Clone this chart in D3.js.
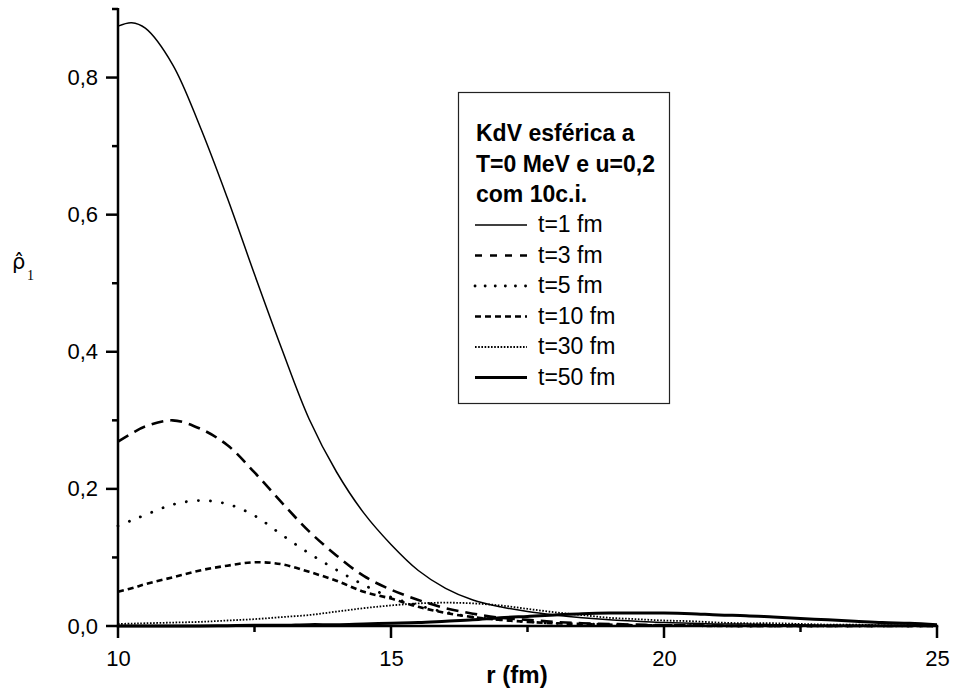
<!DOCTYPE html>
<html>
<head>
<meta charset="utf-8">
<script src="https://cdn.jsdelivr.net/npm/d3@7"></script>
<style>
  body { margin: 0; background: #fff; }
  text { font-family: Arial, "Liberation Sans", sans-serif; }
</style>
</head>
<body>
<div id="chart"></div>
<script>
let rValues = [10, 10.25, 10.5, 11, 11.5, 12, 12.5, 13, 13.5, 14, 14.5, 15, 15.5, 16, 16.5, 17, 17.5,
    18, 18.5, 19, 19.5, 20, 20.5, 21, 21.5, 22, 22.5, 23, 23.5, 24, 24.5, 25];

let t1 = [0.875, 0.880, 0.872, 0.819, 0.729, 0.625, 0.513, 0.404, 0.302, 0.225, 0.165, 0.119, 0.081, 0.055, 0.038,
    0.028, 0.021, 0.016, 0.012, 0.009, 0.007, 0.005, 0.004, 0.003, 0.003, 0.002, 0.002, 0.001, 0.001, 0.001, 0.001, 0.000];
let t3 = [0.269, 0.281, 0.291, 0.300, 0.288, 0.264, 0.224, 0.180, 0.138, 0.103, 0.073, 0.053, 0.038, 0.026, 0.018,
    0.012, 0.009, 0.006, 0.004, 0.003, 0.002, 0.001, 0.001, 0.0005, 0, 0, 0, 0, 0, 0, 0, 0];
let t5 = [0.146, 0.154, 0.162, 0.177, 0.183, 0.178, 0.161, 0.133, 0.106, 0.082, 0.060, 0.042, 0.030, 0.020, 0.013,
    0.009, 0.006, 0.004, 0.003, 0.002, 0.001, 0.001, 0.0005, 0, 0, 0, 0, 0, 0, 0, 0, 0];
let t10 = [0.050, 0.055, 0.061, 0.071, 0.081, 0.088, 0.093, 0.090, 0.079, 0.066, 0.050, 0.040, 0.028, 0.019, 0.013,
    0.009, 0.006, 0.004, 0.003, 0.002, 0.001, 0.001, 0.0005, 0, 0, 0, 0, 0, 0, 0, 0, 0];
let t30 = [0.003, 0.0035, 0.004, 0.005, 0.006, 0.008, 0.010, 0.013, 0.016, 0.021, 0.026, 0.030, 0.033, 0.034, 0.033,
    0.030, 0.025, 0.020, 0.016, 0.012, 0.010, 0.008, 0.007, 0.005, 0.004, 0.004, 0.003, 0.002, 0.002, 0.001, 0.001, 0.001];
let t50 = [0, 0, 0, 0, 0, 0.0005, 0.001, 0.001, 0.002, 0.002, 0.003, 0.004, 0.005, 0.007, 0.009, 0.012, 0.014,
    0.016, 0.018, 0.019, 0.019, 0.019, 0.018, 0.016, 0.015, 0.013, 0.011, 0.009, 0.007, 0.005, 0.004, 0.002];

let seriesLabels = ['t=1 fm', 't=3 fm', 't=5 fm', 't=10 fm', 't=30 fm', 't=50 fm'];
let legendTitle = ['KdV esférica a', 'T=0 MeV e u=0,2', 'com 10c.i.'];
let yMajorTicks = [0, 0.2, 0.4, 0.6, 0.8],
    yMinorTicks = [0.1, 0.3, 0.5, 0.7, 0.9],
    xMajorTicks = [10, 15, 20, 25],
    xMinorTicks = [12.5, 17.5, 22.5];

let width = 956, height = 689,
    margin = {top: 9, left: 118, bottom: 63, right: 19},
    clipWidth = width - margin.left - margin.right,
    clipHeight = height - margin.top - margin.bottom;

let styles = [
    {width: 1.5, dash: null, cap: 'butt'},
    {width: 2.6, dash: '12,7', cap: 'butt'},
    {width: 2.8, dash: '0.1,12', cap: 'round'},
    {width: 2.6, dash: '6,4', cap: 'butt'},
    {width: 1.8, dash: '1.6,1.6', cap: 'butt'},
    {width: 3, dash: null, cap: 'butt'}
];

let svg = d3.select('#chart').append('svg')
    .attr('width', width)
    .attr('height', height);

let g = svg.append('g')
    .attr('transform', `translate(${margin.left}, ${margin.top})`);

let xScale = d3.scaleLinear().domain([10, 25]).range([0, clipWidth]);
let yScale = d3.scaleLinear().domain([0, 0.9]).range([clipHeight, 0]);

let fmt = d => d3.format('.1f')(d).replace('.', ',');

let line = d3.line()
    .x(d => xScale(d[0]))
    .y(d => yScale(d[1]))
    .curve(d3.curveCatmullRom.alpha(0.5));

let allSeries = [t1, t3, t5, t10, t30, t50];

g.append('g').attr('class', 'curves')
    .selectAll('path')
    .data(allSeries)
    .join('path')
    .attr('d', s => line(rValues.map((r, i) => [r, s[i]])))
    .attr('fill', 'none')
    .attr('stroke', '#000')
    .attr('stroke-width', (d, i) => styles[i].width)
    .attr('stroke-dasharray', (d, i) => styles[i].dash)
    .attr('stroke-linecap', (d, i) => styles[i].cap);

// axes: labels from d3.axis, ticks drawn by hand
let xAxis = g.append('g')
    .attr('transform', `translate(0, ${clipHeight})`)
    .call(d3.axisBottom(xScale).tickValues(xMajorTicks).tickSize(0).tickPadding(24).tickSizeOuter(0));

let yAxis = g.append('g')
    .call(d3.axisLeft(yScale).tickValues(yMajorTicks).tickSize(0).tickPadding(20).tickFormat(fmt).tickSizeOuter(0));

g.selectAll('.domain').remove();
g.selectAll('.tick text')
    .attr('fill', '#000')
    .style('font-size', '22px')
    .style('font-family', 'Arial, "Liberation Sans", sans-serif');

let ticks = g.append('g').attr('class', 'ticks')
    .attr('stroke', '#000')
    .attr('stroke-width', 2.5);

ticks.selectAll('line.xt')
    .data(xMajorTicks.map(v => [v, 12]).concat(xMinorTicks.map(v => [v, 6])))
    .join('line')
    .attr('class', 'xt')
    .attr('x1', d => xScale(d[0]))
    .attr('x2', d => xScale(d[0]))
    .attr('y1', clipHeight)
    .attr('y2', d => clipHeight + d[1]);

ticks.selectAll('line.yt')
    .data(yMajorTicks.map(v => [v, 12]).concat(yMinorTicks.map(v => [v, 6])))
    .join('line')
    .attr('class', 'yt')
    .attr('x1', 0)
    .attr('x2', d => -d[1])
    .attr('y1', d => yScale(d[0]))
    .attr('y2', d => yScale(d[0]));

ticks.append('line')
    .attr('x1', 0).attr('x2', 0)
    .attr('y1', yScale(0.9) - 1).attr('y2', yScale(0) + 1.25);
ticks.append('line')
    .attr('x1', -1.25).attr('x2', xScale(25) + 1.25)
    .attr('y1', yScale(0)).attr('y2', yScale(0));

// axis titles
svg.append('text')
    .attr('x', 517)
    .attr('y', 683)
    .attr('text-anchor', 'middle')
    .style('font-size', '24px')
    .style('font-weight', 'bold')
    .text('r (fm)');

let yLab = svg.append('text')
    .attr('x', 12)
    .attr('y', 269)
    .style('font-family', '"DejaVu Sans", sans-serif')
    .style('font-size', '21px');
yLab.append('tspan').text('ρ\u0302');
yLab.append('tspan')
    .attr('x', 27)
    .attr('y', 280)
    .style('font-family', '"Liberation Serif", "Times New Roman", serif')
    .style('font-size', '14px')
    .text('1');

// legend
let legend = svg.append('g');
legend.append('rect')
    .attr('x', 458.5)
    .attr('y', 92.5)
    .attr('width', 211)
    .attr('height', 311)
    .attr('fill', '#fff')
    .attr('stroke', '#222')
    .attr('stroke-width', 1.2);

legend.selectAll('text.title')
    .data(legendTitle)
    .join('text')
    .attr('class', 'title')
    .attr('x', 476)
    .attr('y', (d, i) => 141 + i * 30.5)
    .style('font-size', '23px')
    .style('font-weight', 'bold')
    .text(d => d);

let items = legend.selectAll('g.item')
    .data(seriesLabels)
    .join('g')
    .attr('class', 'item')
    .attr('transform', (d, i) => `translate(0, ${232 + i * 30.5})`);

items.append('line')
    .attr('x1', 475)
    .attr('x2', 527)
    .attr('y1', -7)
    .attr('y2', -7)
    .attr('stroke', '#000')
    .attr('stroke-width', (d, i) => styles[i].width)
    .attr('stroke-dasharray', (d, i) => i === 1 ? '7,8' : (i === 2 ? '0.1,10' : styles[i].dash))
    .attr('stroke-linecap', (d, i) => styles[i].cap);

items.append('text')
    .attr('x', 538)
    .attr('y', 0)
    .style('font-size', '23px')
    .text(d => d);
</script>
</body>
</html>
